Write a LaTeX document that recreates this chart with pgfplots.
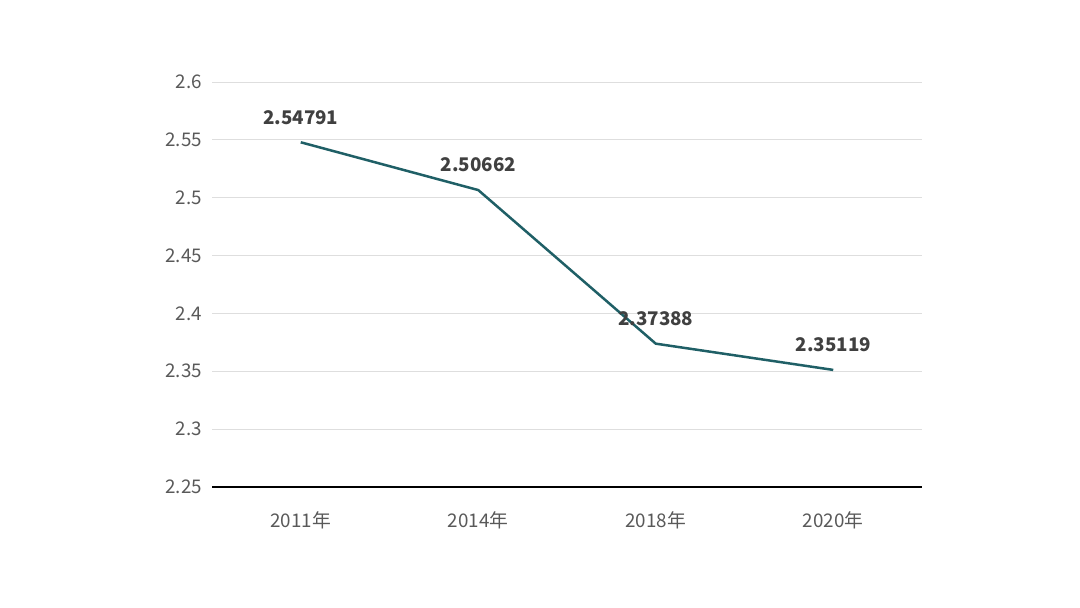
\documentclass[border=0pt]{standalone}
\usepackage{pgfplots}
\pgfplotsset{compat=1.18}
\usepackage{fontspec}
\setmainfont{Noto Sans CJK SC}
\definecolor{linec}{HTML}{1F5F66}
\definecolor{tickc}{HTML}{595959}
\definecolor{labc}{HTML}{404040}
\definecolor{gridc}{HTML}{DEDEDE}
\begin{document}
\begin{tikzpicture}
\useasboundingbox (-106pt,-60pt) rectangle (434pt,243.5pt);
\begin{axis}[
    at={(0,0)}, anchor=south west,
    scale only axis,
    width=355pt, height=202.5pt,
    xmin=-0.5, xmax=3.5,
    ymin=2.25, ymax=2.6,
    ytick={2.25,2.3,...,2.6},
    xtick=data,
    xticklabels={2011年,2014年,2018年,2020年},
    axis y line*=left,
    axis x line*=bottom,
    y axis line style={draw=none},
    x axis line style={black, line width=0.7pt},
    major tick length=0pt,
    ymajorgrids,
    grid style={gridc, line width=0.5pt},
    tick label style={font=\fontsize{9.4}{11}\selectfont, text=tickc},
    /pgf/number format/assume math mode=true,
    yticklabel style={xshift=-1.5pt},
    xticklabel style={yshift=-9pt},
    nodes near coords,
    point meta=explicit symbolic,
    every node near coord/.append style={font=\bfseries\fontsize{9.4}{11}\selectfont, text=labc, anchor=south, yshift=5pt},
]
\addplot[linec, line width=1.25pt, mark=none] coordinates {
    (0,2.54791) [2.54791]
    (1,2.50662) [2.50662]
    (2,2.37388) [2.37388]
    (3,2.35119) [2.35119]
};
\end{axis}
\end{tikzpicture}
\end{document}
